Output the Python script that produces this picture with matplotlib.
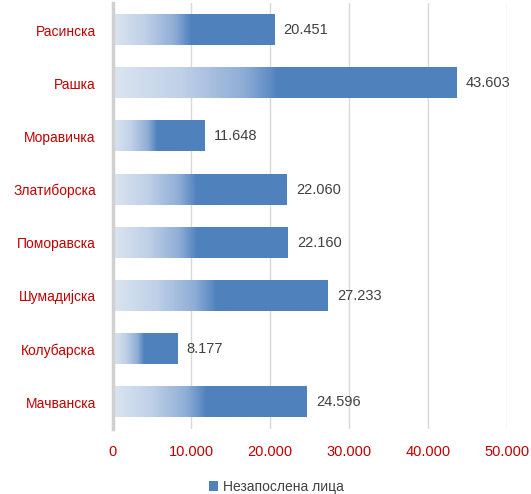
import numpy as np
import matplotlib.pyplot as plt
from matplotlib.colors import LinearSegmentedColormap
from matplotlib.patches import Patch
from matplotlib.ticker import FuncFormatter

plt.rcParams['font.family'] = ['Liberation Sans', 'DejaVu Sans']

districts = ['Расинска', 'Рашка', 'Моравичка', 'Златиборска',
             'Поморавска', 'Шумадијска', 'Колубарска', 'Мачванска']
unemployed = [20451, 43603, 11648, 22060, 22160, 27233, 8177, 24596]
value_labels = ['20.451', '43.603', '11.648', '22.060',
                '22.160', '27.233', '8.177', '24.596']
series_name = 'Незапослена лица'

red = '#c00000'
blue = '#4f81bd'
grad = LinearSegmentedColormap.from_list(
    'g', [(0, '#dbe5f1'), (0.2, '#bfd0e7'), (0.38, '#8eadd6'),
          (0.46, '#5d8bc3'), (0.48, blue), (1, blue)])

fig = plt.figure(figsize=(5.31, 4.94), dpi=100)
ax = fig.add_axes([0.2119, 0.132, 0.742, 0.861])

y = np.arange(len(districts))
bars = ax.barh(y, unemployed, height=0.565, color='none', zorder=2)
ramp = np.linspace(0, 1, 256).reshape(1, -1)
for b in bars:
    x0, y0, w, h = b.get_x(), b.get_y(), b.get_width(), b.get_height()
    ax.imshow(ramp, cmap=grad, aspect='auto', extent=[x0, x0 + w, y0, y0 + h],
              zorder=2, interpolation='bilinear')

for yi, v, lab in zip(y, unemployed, value_labels):
    ax.text(v + 1250, yi, lab, va='center', ha='left', fontsize=10.5, color='#404040')

ax.set_xlim(0, 50000)
ax.set_ylim(len(districts) - 0.5, -0.5)
ax.set_yticks(y)
ax.set_yticklabels(districts, color=red, fontsize=10)
ax.set_xticks(np.arange(0, 50001, 10000))
ax.xaxis.set_major_formatter(FuncFormatter(lambda v, p: f'{int(v):,}'.replace(',', '.')))
ax.tick_params(axis='x', colors=red, labelsize=10.5, length=0, pad=12)
ax.tick_params(axis='y', length=0, pad=12)
ax.grid(axis='x', color='#d9d9d9', linewidth=1, zorder=0)
for s in ['top', 'right', 'bottom']:
    ax.spines[s].set_visible(False)
ax.spines['left'].set_color('#d0d0d0')
ax.spines['left'].set_linewidth(2.5)

fig.legend(handles=[Patch(facecolor=blue, edgecolor='none', label=series_name)],
           loc='center', bbox_to_anchor=(0.52, 0.015), frameon=False,
           fontsize=10, handlelength=0.7, handleheight=0.7, handletextpad=0.3,
           labelcolor='#404040')

fig.savefig('out.png', dpi=100)
